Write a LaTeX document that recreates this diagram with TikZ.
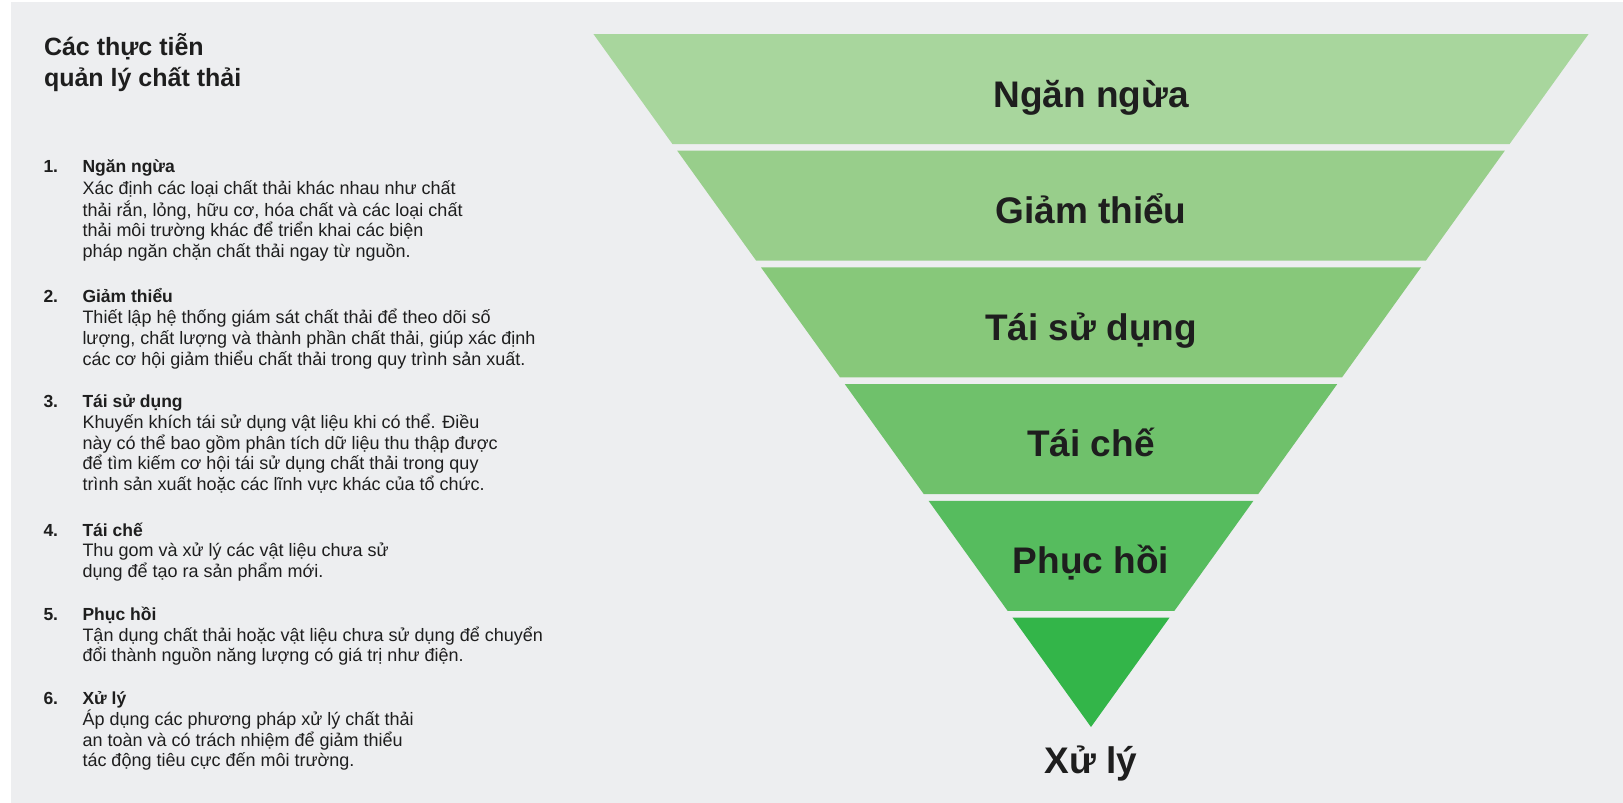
\documentclass[tikz,border=0pt]{standalone}
\usepackage{fontspec}
\setmainfont{Liberation Sans}
\definecolor{bggray}{HTML}{EDEEF0}
\definecolor{ink}{HTML}{1E1E1E}
\definecolor{bandA}{HTML}{A8D69D}
\definecolor{bandB}{HTML}{98CE8B}
\definecolor{bandC}{HTML}{87C87A}
\definecolor{bandD}{HTML}{6FC16B}
\definecolor{bandE}{HTML}{56BC5E}
\definecolor{bandF}{HTML}{33B549}
\newcommand{\mylines}[1]{\begin{tabular}[t]{@{}l@{}}#1\end{tabular}}
\tikzset{
  txt/.style={inner sep=0pt, outer sep=0pt, text=ink, anchor=base west},
  ttl/.style={txt, font=\fontsize{25}{31.7}\selectfont\bfseries},
  num/.style={txt, font=\fontsize{17.5}{20.7}\selectfont\bfseries},
  head/.style={txt, font=\fontsize{17.5}{20.7}\selectfont\bfseries},
  body/.style={txt, font=\fontsize{18}{20.7}\selectfont},
  biglabel/.style={inner sep=0pt, outer sep=0pt, text=ink, anchor=base, font=\fontsize{37}{40}\selectfont\bfseries},
}
\begin{document}
\begin{tikzpicture}[x=1pt,y=-1pt]
\useasboundingbox (0,0) rectangle (1623,803);
\fill[white] (0,0) rectangle (1623,803);
\fill[bggray] (11,2) rectangle (1623,803);

% funnel bands
\foreach \k/\c in {0/bandA,1/bandB,2/bandC,3/bandD,4/bandE,5/bandF}{
  \pgfmathsetmacro\t{34+116.7*\k}
  \pgfmathsetmacro\b{min(\t+110,727)}
  \pgfmathsetmacro\ht{0.718*(727-\t)}
  \pgfmathsetmacro\hb{0.718*(727-\b)}
  \fill[\c] (1091-\ht,\t) -- (1091+\ht,\t) -- (1091+\hb,\b) -- (1091-\hb,\b) -- cycle;
}

% funnel labels
\node[biglabel] (L1) at (1091,107.5) {Ngăn ngừa};
\node[biglabel] (L2) at (1091,223.8) {Giảm thiểu};
\node[biglabel] (L3) at (1091,340.3) {Tái sử dụng};
\node[biglabel] (L4) at (1091,456.8) {Tái chế};
\node[biglabel] (L5) at (1091,573.5) {Phục hồi};
\node[biglabel] (L6) at (1091,773.3) {Xử lý};

% title
\node[ttl] (title) at (44,55) {\mylines{Các thực tiễn\\quản lý chất thải}};

% list
\node[num] (n1) at (43.5,172.7) {1.};
\node[head] (h1) at (82.5,172.7) {Ngăn ngừa};
\node[body] (b1) at (82.5,194.2) {\mylines{Xác định các loại chất thải khác nhau như chất\\thải rắn, lỏng, hữu cơ, hóa chất và các loại chất\\thải môi trường khác để triển khai các biện\\pháp ngăn chặn chất thải ngay từ nguồn.}};

\node[num] (n2) at (43.5,302.2) {2.};
\node[head] (h2) at (82.5,302.2) {Giảm thiểu};
\node[body] (b2) at (82.5,323.7) {\mylines{Thiết lập hệ thống giám sát chất thải để theo dõi số\\lượng, chất lượng và thành phần chất thải, giúp xác định\\các cơ hội giảm thiểu chất thải trong quy trình sản xuất.}};

\node[num] (n3) at (43.5,407.8) {3.};
\node[head] (h3) at (82.5,407.8) {Tái sử dụng};
\node[body] (b3) at (82.5,428.5) {\mylines{Khuyến khích tái sử dụng vật liệu khi có thể. Điều\\này có thể bao gồm phân tích dữ liệu thu thập được\\để tìm kiếm cơ hội tái sử dụng chất thải trong quy\\trình sản xuất hoặc các lĩnh vực khác của tổ chức.}};

\node[num] (n4) at (43.5,536) {4.};
\node[head] (h4) at (82.5,536) {Tái chế};
\node[body] (b4) at (82.5,556.3) {\mylines{Thu gom và xử lý các vật liệu chưa sử\\dụng để tạo ra sản phẩm mới.}};

\node[num] (n5) at (43.5,620.2) {5.};
\node[head] (h5) at (82.5,620.2) {Phục hồi};
\node[body] (b5) at (82.5,641.2) {\mylines{Tận dụng chất thải hoặc vật liệu chưa sử dụng để chuyển\\đổi thành nguồn năng lượng có giá trị như điện.}};

\node[num] (n6) at (43.5,704.5) {6.};
\node[head] (h6) at (82.5,704.5) {Xử lý};
\node[body] (b6) at (82.5,725.5) {\mylines{Áp dụng các phương pháp xử lý chất thải\\an toàn và có trách nhiệm để giảm thiểu\\tác động tiêu cực đến môi trường.}};
\end{tikzpicture}
\end{document}
